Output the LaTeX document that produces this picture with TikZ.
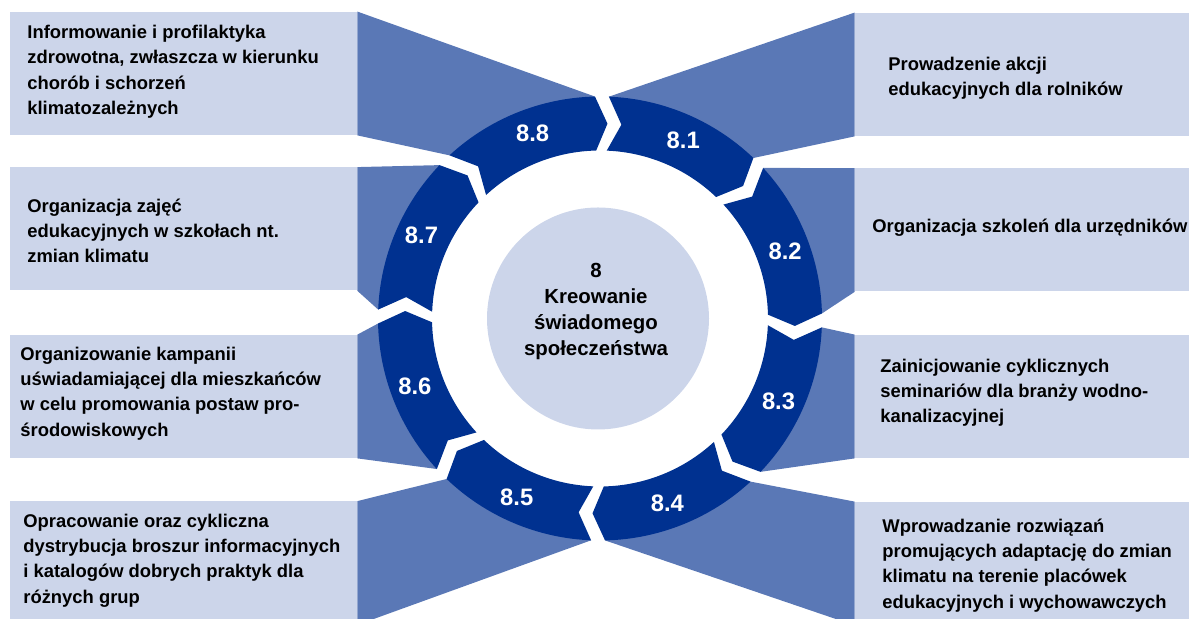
\documentclass[tikz,border=0pt]{standalone}
\usepackage{fontspec}
\setmainfont{Liberation Sans}
\usetikzlibrary{calc}
\definecolor{ringblue}{HTML}{003190}
\definecolor{funnelblue}{HTML}{5A78B6}
\definecolor{boxblue}{HTML}{CCD5EA}

\tikzset{
  sidebox/.style={rectangle, fill=boxblue, inner sep=0pt, minimum height=61.5pt},
  leftbox/.style={sidebox, minimum width=173.5pt},
  rightbox/.style={sidebox, minimum width=172.5pt},
  boxtext/.style={anchor=west, align=left, inner sep=0pt, font=\bfseries\fontsize{9.2}{12.6}\selectfont},
  numlabel/.style={text=white, inner sep=0pt, font=\bfseries\fontsize{11.9}{14}\selectfont},
  funnel/.style={fill=funnelblue}
}

\begin{document}
\begin{tikzpicture}[x=0.5pt, y=0.5pt]
  \path[use as bounding box, clip] (0,0) rectangle (1189,619);
  \coordinate (ctr) at (600,300.5);

  % end points of the ring parts
  \foreach \k in {1,...,8} {
    \pgfmathsetmacro\bs{135-45*\k}
    \pgfmathsetmacro\aone{\bs-2.3}
    \pgfmathsetmacro\atwo{\bs-45+1.3}
    \coordinate (s\k) at ($(ctr)+(\aone:222)$);
    \coordinate (e\k) at ($(ctr)+(\atwo:222)$);
  }

  % boxes
  \node[leftbox] (b8) at (183.5,545.5) {};
  \node[leftbox] (b7) at (183.5,390) {};
  \node[leftbox] (b6) at (183.5,222.5) {};
  \node[leftbox] (b5) at (183.5,56) {};
  \node[rightbox] (b1) at (1027.5,544.5) {};
  \node[rightbox] (b2) at (1027.5,389) {};
  \node[rightbox] (b3) at (1027.5,222.5) {};
  \node[rightbox] (b4) at (1027.5,55.5) {};

  % funnels
  \foreach \k in {5,...,8}
    \fill[funnel] (b\k.north east) -- (e\k) -- (s\k) -- (b\k.south east) -- cycle;
  \foreach \k in {1,...,4}
    \fill[funnel] (b\k.north west) -- (s\k) -- (e\k) -- (b\k.south west) -- cycle;

  % ring
  \foreach \k in {1,...,8} {
    \pgfmathsetmacro\bs{135-45*\k}
    \pgfmathsetmacro\aone{\bs-2.3}
    \pgfmathsetmacro\notch{\bs-6.3}
    \pgfmathsetmacro\atwo{\bs-45+1.3}
    \pgfmathsetmacro\tip{\bs-45-2.2}
    \fill[ringblue] (s\k) arc[start angle=\aone, end angle=\atwo, radius=222]
      -- ($(ctr)+(\tip:195)$) -- ($(ctr)+(\atwo:168)$)
      arc[start angle=\atwo, end angle=\aone, radius=168]
      -- ($(ctr)+(\notch:195)$) -- cycle;
    \node[numlabel] (l\k) at ($(ctr)+(\bs-25:197)$) {8.\k};
  }

  % centre
  \node[circle, fill=boxblue, minimum size=111pt] (core) at (598,300.5) {};
  \node[align=center, inner sep=0pt, font=\bfseries\fontsize{10.2}{12.85}\selectfont] (coretext) at (596,307.5)
    {8\\Kreowanie\\świadomego\\społeczeństwa};

  % texts
  \node[boxtext] (t8) at (27,547.3) {Informowanie i profilaktyka\\zdrowotna, zwłaszcza w kierunku\\chorób i schorzeń\\klimatozależnych};
  \node[boxtext] (t7) at (27,388) {Organizacja zajęć\\edukacyjnych w szkołach nt.\\zmian klimatu};
  \node[boxtext] (t6) at (20,225.5) {Organizowanie kampanii\\uświadamiającej dla mieszkańców\\w celu promowania postaw pro-\\środowiskowych};
  \node[boxtext] (t5) at (23,58.5) {Opracowanie oraz cykliczna\\dystrybucja broszur informacyjnych\\i katalogów dobrych praktyk dla\\różnych grup};
  \node[boxtext] (t1) at (888,540.5) {Prowadzenie akcji\\edukacyjnych dla rolników};
  \node[boxtext] (t2) at (872,391) {Organizacja szkoleń dla urzędników};
  \node[boxtext] (t3) at (880,226) {Zainicjowanie cyklicznych\\seminariów dla branży wodno-\\kanalizacyjnej};
  \node[boxtext] (t4) at (882,53.5) {Wprowadzanie rozwiązań\\promujących adaptację do zmian\\klimatu na terenie placówek\\edukacyjnych i wychowawczych};
\end{tikzpicture}
\end{document}
